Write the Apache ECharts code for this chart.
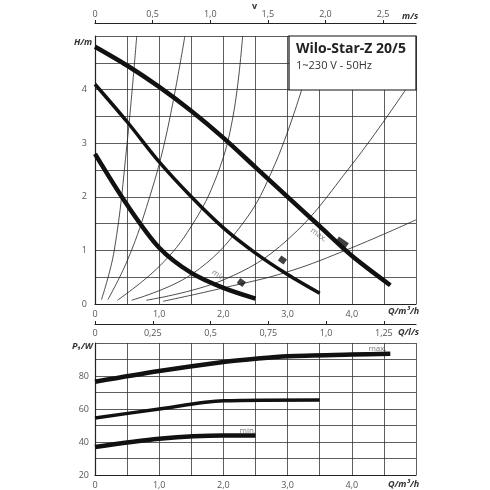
<!DOCTYPE html>
<html><head><meta charset="utf-8">
<script src="https://cdn.jsdelivr.net/npm/echarts@6/dist/echarts.min.js"></script>
<style>html,body{margin:0;background:#fff}#c{width:490px;height:490px}</style>
</head><body><div id="c"></div>
<script>
// H(Q) pump curves, Q in m³/h, H in m
const headMax = [[0,4.8],[0.5,4.45],[1,4.05],[1.5,3.6],[2,3.1],[2.5,2.55],[3,2.0],[3.5,1.45],[4,0.9],[4.6,0.35]];
const headMid = [[0,4.1],[0.5,3.4],[1,2.65],[1.5,2.0],[2,1.42],[2.5,0.95],[3,0.55],[3.5,0.2]];
const headMin = [[0,2.8],[0.5,1.85],[1,1.05],[1.5,0.58],[2,0.3],[2.5,0.1]];
// thin system curves
const sys1 = [[0.1,0.08],[0.3,1.0],[0.5,3.0],[0.65,5]];
const sys2 = [[0.2,0.08],[0.5,0.8],[0.8,1.8],[1.1,3.1],[1.4,5]];
const sys3 = [[0.35,0.07],[1.0,0.7],[1.5,1.45],[1.9,2.4],[2.15,3.5],[2.3,5]];
const sys4 = [[0.57,0.07],[1.5,0.55],[2.3,1.5],[2.8,2.6],[3.22,4.0]];
const sys5 = [[0.8,0.07],[2.0,0.45],[3.0,1.2],[4.0,2.6],[4.84,4.0]];
const sys6 = [[1.06,0.05],[2.0,0.3],[3.0,0.6],[4.0,1.05],[5,1.57]];
// P1(Q) power curves, W
const powMax = [[0,76.5],[1,83],[2,88.5],[2.5,90.5],[3,92],[4,93],[4.6,93.5]];
const powMid = [[0,54.5],[1,60],[2,65],[3.5,65.5]];
const powMin = [[0,37],[1,42],[2,44],[2.5,44]];
// speed markers
const markers = [[3.85,1.15,'max.'],[2.92,0.82,''],[2.28,0.4,'min.']];

const grey = '#555';
const fmt1 = v => v === 0 ? '0' : v.toFixed(1).replace('.', ',');
const fmtLs = v => v === 0 ? '0' : (Number.isInteger(v*2) ? v.toFixed(1) : String(v)).replace('.', ',');

const chart = echarts.init(document.getElementById('c'));
const thick = (data, x, y, w) => ({type:'line', xAxisIndex:x, yAxisIndex:y, data, smooth:0.3, symbol:'none', lineStyle:{color:'#111', width:w}, z:5});
const thin = d => ({type:'line', xAxisIndex:0, yAxisIndex:0, data:d, smooth:0.4, symbol:'none', lineStyle:{color:'#222', width:0.8}, z:3});
const lineAx = {lineStyle:{color:'#222', width:1.2}};
const gridLines = {show:true, lineStyle:{color:'#333', width:0.8}};

chart.setOption({
  animation:false,
  textStyle:{fontFamily:'Open Sans'},
  grid:[{left:95, top:36, width:321, height:268}, {left:95, top:343, width:321, height:134}],
  xAxis:[
    {gridIndex:0, type:'value', min:0, max:5, interval:0.5, axisLine:lineAx, axisTick:{show:false}, splitLine:gridLines,
      axisLabel:{color:grey, fontSize:9, margin:6, formatter:v => v===0?'0':(Number.isInteger(v)&&v<5?fmt1(v):'')}},
    {gridIndex:0, type:'value', position:'top', offset:13, min:0, max:2.786, interval:0.5, axisLine:lineAx, axisTick:{show:true, length:3}, splitLine:{show:false},
      axisLabel:{color:grey, fontSize:9, margin:4, showMaxLabel:false, formatter:v => v===0?'0':fmt1(v)}},
    {gridIndex:1, type:'value', min:0, max:5, interval:0.5, axisLine:lineAx, axisTick:{show:false}, splitLine:gridLines,
      axisLabel:{color:grey, fontSize:9, margin:6, formatter:v => v===0?'0':(Number.isInteger(v)&&v<5?fmt1(v):'')}},
    {gridIndex:1, type:'value', position:'top', offset:19, min:0, max:1.389, interval:0.25, axisLine:lineAx, axisTick:{show:true, length:3}, splitLine:{show:false},
      axisLabel:{inside:true, color:grey, fontSize:9, margin:5, showMaxLabel:false, formatter:fmtLs}}
  ],
  yAxis:[
    {gridIndex:0, type:'value', min:0, max:5, interval:0.5, axisLine:lineAx, axisTick:{show:false}, splitLine:gridLines,
      axisLabel:{color:grey, fontSize:9, margin:8, formatter:v => Number.isInteger(v)&&v<5?String(v):''}},
    {gridIndex:1, type:'value', min:20, max:100, interval:10, axisLine:lineAx, axisTick:{show:false}, splitLine:gridLines,
      axisLabel:{color:grey, fontSize:9, margin:6, formatter:v => v%20===0&&v<100?String(v):''}}
  ],
  graphic:[
    {type:'rect', shape:{x:289, y:36, width:127, height:54}, style:{fill:'#fff', stroke:'#111', lineWidth:1.2}, z:10},
    {type:'text', left:296, top:42, style:{text:'Wilo-Star-Z 20/5', font:'bold 14px "Open Sans"', fill:'#222'}, z:11},
    {type:'text', left:296, top:60, style:{text:'1~230 V - 50Hz', font:'11px "Open Sans"', fill:'#333'}, z:11},
    {type:'text', left:252, top:2, style:{text:'v', font:'bold 9px "Open Sans"', fill:'#333'}},
    {type:'text', left:402, top:12, style:{text:'m/s', font:'italic bold 9px "Open Sans"', fill:'#333'}},
    {type:'text', left:74, top:38, style:{text:'H/m', font:'italic bold 9px "Open Sans"', fill:'#333'}},
    {type:'text', left:388, top:307, style:{text:'Q/m³/h', font:'italic bold 9px "Open Sans"', fill:'#333'}},
    {type:'text', left:398, top:328, style:{text:'Q/l/s', font:'italic bold 9px "Open Sans"', fill:'#333'}},
    {type:'text', left:72, top:342, style:{text:'P₁/W', font:'italic bold 9px "Open Sans"', fill:'#333'}},
    {type:'text', left:388, top:480, style:{text:'Q/m³/h', font:'italic bold 9px "Open Sans"', fill:'#333'}}
  ],
  series:[
    thin(sys1), thin(sys2), thin(sys3), thin(sys4), thin(sys5), thin(sys6),
    thick(headMax,0,0,4.5), thick(headMid,0,0,3.5), thick(headMin,0,0,4.5),
    {type:'scatter', xAxisIndex:0, yAxisIndex:0, data:markers.map(m => [m[0], m[1]]), symbol:'rect',
      symbolSize:(v, p) => p.dataIndex===0 ? [12,6] : [7,6], symbolRotate:-35, itemStyle:{color:'#111'}, z:6,
      label:{show:true, formatter:p => markers[p.dataIndex][2], position:[-22,-10], rotate:-35, color:grey, fontSize:8}},
    thick(powMax,2,1,4.5), thick(powMid,2,1,3.5), thick(powMin,2,1,4.5),
    {type:'scatter', xAxisIndex:2, yAxisIndex:1, data:[[4.4,96.5],[2.38,47]], symbolSize:0,
      label:{show:true, formatter:p => p.dataIndex===0?'max.':'min.', color:grey, fontSize:8}}
  ]
});
</script></body></html>
